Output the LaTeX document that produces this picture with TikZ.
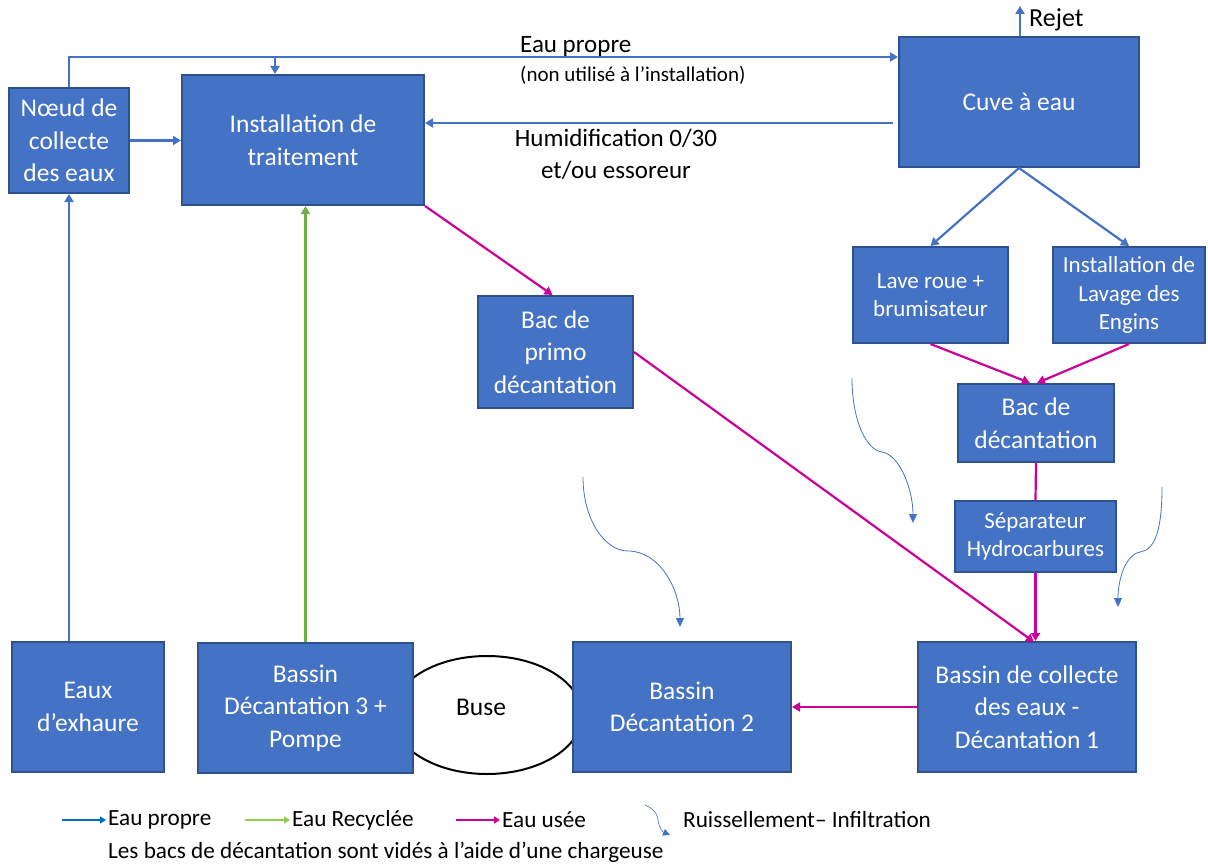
\documentclass[tikz,border=0pt]{standalone}
\usepackage{fontspec}
\setmainfont{Carlito}
\usetikzlibrary{arrows.meta,shapes.geometric}
\definecolor{boxfill}{HTML}{4472C4}
\definecolor{boxedge}{HTML}{2F528F}
\definecolor{bleu}{HTML}{4472C4}
\definecolor{bleuleg}{HTML}{0070C0}
\definecolor{vert}{HTML}{70AD47}
\definecolor{vertleg}{HTML}{8FD14F}
\definecolor{rose}{HTML}{CC0099}
\tikzset{
  box/.style={draw=boxedge, line width=2pt, fill=boxfill, text=white, align=center,
    inner sep=0pt, font=\fontsize{25.5}{32.5}\selectfont},
  smallbox/.style={box, font=\fontsize{23}{28.5}\selectfont},
  tipA/.style={-{Triangle[width=9pt,length=8pt]}},
  blueline/.style={draw=bleu, line width=2.2pt},
  greenline/.style={draw=vert, line width=2.2pt},
  pinkline/.style={draw=rose, line width=2.2pt},
  runoff/.style={draw=bleu, line width=0.8pt, -{Triangle[width=8pt,length=9pt]}},
  lbl/.style={inner sep=0pt, text=black},
  legtext/.style={lbl, anchor=west, font=\fontsize{23.2}{26}\selectfont},
}
\begin{document}
\begin{tikzpicture}[x=1pt,y=-1pt]
\useasboundingbox (0,0) rectangle (1208,867);
% Buse ellipse (behind boxes)
\node[draw=black, line width=2pt, ellipse, inner sep=0pt, minimum width=190, minimum height=118] (buseshape) at (487,715) {};
\node[lbl, font=\fontsize{25.5}{30}\selectfont] (buse) at (481,707) {Buse};
% boxes
\node[box, minimum width=120, minimum height=105] (noeud) at (69,140.5) {Nœud de\\collecte\\des eaux};
\node[box, minimum width=242, minimum height=130] (inst) at (303,140) {Installation de\\traitement};
\node[box, minimum width=240, minimum height=130] (cuve) at (1019,102) {Cuve à eau};
\node[smallbox, minimum width=155, minimum height=96] (lave) at (930.5,295) {Lave roue +\\brumisateur};
\node[smallbox, minimum width=152, minimum height=96] (lavage) at (1129,295) {Installation de\\Lavage des\\Engins};
\node[box, minimum width=156, minimum height=78] (bacdec) at (1036,423) {Bac de\\décantation};
\node[smallbox, minimum width=161, minimum height=71] (sep) at (1035.5,536.5) {Séparateur\\Hydrocarbures};
\node[box, minimum width=155, minimum height=112] (primo) at (555.5,352) {Bac de\\primo\\décantation};
\node[box, minimum width=152, minimum height=130] (exhaure) at (88,707) {Eaux\\d’exhaure};
\node[box, minimum width=215, minimum height=130] (b3) at (305.5,708) {Bassin\\Décantation 3 +\\Pompe};
\node[box, minimum width=218, minimum height=130] (b2) at (682,707) {Bassin\\Décantation 2};
\node[box, minimum width=218, minimum height=130] (b1) at (1027,707) {Bassin de collecte\\des eaux -\\Décantation 1};
% coordinates
\coordinate (toprow) at (0,57);
\coordinate (br) at (275,57);
\coordinate (hum) at (0,123);
\coordinate (b1top) at (1034,642);
\coordinate (rejet) at (1020,6);
% blue connectors
\draw[blueline, tipA] (noeud.north) |- (cuve.west |- toprow);
\draw[blueline, tipA] (br) -- (br |- inst.north);
\draw[blueline, tipA] ([xshift=-5]cuve.west |- hum) -- (inst.east |- hum);
\draw[blueline, tipA] (noeud.east) -- (inst.west |- noeud.east);
\draw[blueline, tipA] (exhaure.north -| noeud.south) -- (noeud.south);
\draw[blueline, tipA] (cuve.north -| rejet) -- (rejet);
\draw[blueline, tipA] (cuve.south) -- (lave.north);
\draw[blueline, tipA] (cuve.south) -- (lavage.north);
% green
\draw[greenline, tipA] (b3.north) -- (b3.north |- inst.south);
% pink
\draw[pinkline, tipA] (inst.south east) -- ([xshift=-3]primo.north);
\draw[pinkline, tipA] (primo.east) -- (b1top);
\draw[pinkline, tipA] (lave.south) -- ([xshift=-6]bacdec.north);
\draw[pinkline, tipA] (lavage.south) -- ([xshift=1]bacdec.north);
\draw[pinkline] (bacdec.south) -- (sep.north);
\draw[pinkline, tipA] (sep.south) -- (sep.south |- b1.north);
\draw[pinkline, tipA] (b1.west) -- (b2.east);
% labels
\node[lbl, anchor=west, font=\fontsize{26}{30}\selectfont] (rejetlbl) at (1029,20) {Rejet};
\node[lbl, anchor=west, font=\fontsize{25}{30}\selectfont] (eplbl) at (520,46) {Eau propre};
\node[lbl, anchor=west, font=\fontsize{21}{24}\selectfont] (nulbl) at (520,75) {(non utilisé à l’installation)};
\node[lbl, align=center, font=\fontsize{25}{32}\selectfont] (humlbl) at (616,154) {Humidification 0/30\\et/ou essoreur};
% runoff curves
\draw[runoff] (583,477) .. controls (583,520) and (605,551) .. (628,551) .. controls (660,551) and (680,590) .. (680,627);
\draw[runoff] (852,378) .. controls (852,420) and (866,450) .. (882,452) .. controls (900,455) and (913,490) .. (913,523);
\draw[runoff] (1162,487) .. controls (1162,530) and (1155,550) .. (1140,552) .. controls (1125,555) and (1118,580) .. (1118,607);
% legend
\coordinate (l1a) at (62,820); \coordinate (l1b) at (106,820);
\coordinate (l2a) at (245,820); \coordinate (l2b) at (290,820);
\coordinate (l3a) at (456,820); \coordinate (l3b) at (500,820);
\draw[bleuleg, line width=2pt, -{Triangle[width=7pt,length=6pt]}] (l1a) -- (l1b);
\draw[vertleg, line width=2pt, -{Triangle[width=7pt,length=6pt]}] (l2a) -- (l2b);
\draw[rose, line width=2pt, -{Triangle[width=7pt,length=6pt]}] (l3a) -- (l3b);
\draw[draw=bleu, line width=0.6pt, -{Triangle[width=7pt,length=7pt]}] (645,805) .. controls (652,808) and (657,812) .. (658,820) .. controls (659,828) and (663,832) .. (670,835);
\node[legtext] (leg1) at (108,820) {Eau propre};
\node[legtext] (leg2) at (292,820) {Eau Recyclée};
\node[legtext] (leg3) at (502,820) {Eau usée};
\node[legtext] (leg4) at (683,820) {Ruissellement– Infiltration};
\node[legtext] (leg5) at (108,852) {Les bacs de décantation sont vidés à l’aide d’une chargeuse};
\end{tikzpicture}
\end{document}
